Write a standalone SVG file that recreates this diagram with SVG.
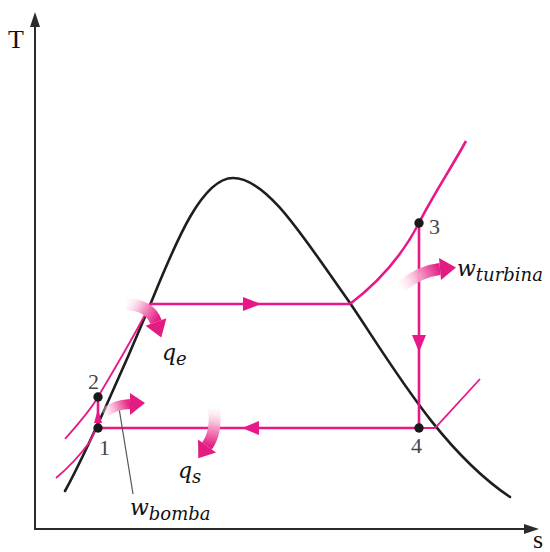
<svg xmlns="http://www.w3.org/2000/svg" width="550" height="552" viewBox="0 0 550 552">
<style>
.ax{stroke:#2b2b2b;stroke-width:2;fill:none}
.axh{fill:#2b2b2b}
.dome{stroke:#1e1e1e;stroke-width:2.6;fill:none;stroke-linecap:round}
.mg{stroke:#e8178a;stroke-width:2.6;fill:none}
.mgt{stroke:#e8178a;stroke-width:1.8;fill:none}
.mgh{fill:#e8178a}
.dot{fill:#1a1a1a}
.num{font-family:"Liberation Serif",serif;font-size:22px;fill:#3e4656}
.axl{font-family:"Liberation Serif",serif;font-size:26px;fill:#111}
.m{font-family:"DejaVu Serif",serif;font-style:italic;font-size:22px;fill:#111}
.sub{font-size:18px}
.head{fill:#e31c82}
.body{fill:none;stroke-width:12;stroke-linecap:butt}
</style>
<defs>
<linearGradient id="gqe" gradientUnits="userSpaceOnUse" x1="126" y1="304" x2="156" y2="322">
<stop offset="0" stop-color="#fde8f2" stop-opacity="0.2"/><stop offset="0.5" stop-color="#f49ac6"/><stop offset="1" stop-color="#e31c82"/>
</linearGradient>
<linearGradient id="gwt" gradientUnits="userSpaceOnUse" x1="401" y1="287" x2="440" y2="269">
<stop offset="0" stop-color="#fde8f2" stop-opacity="0.2"/><stop offset="0.5" stop-color="#f49ac6"/><stop offset="1" stop-color="#e31c82"/>
</linearGradient>
<linearGradient id="gwb" gradientUnits="userSpaceOnUse" x1="104" y1="414" x2="130" y2="404">
<stop offset="0" stop-color="#fde8f2" stop-opacity="0.3"/><stop offset="0.5" stop-color="#f49ac6"/><stop offset="1" stop-color="#e31c82"/>
</linearGradient>
<linearGradient id="gqs" gradientUnits="userSpaceOnUse" x1="214" y1="408" x2="207" y2="446">
<stop offset="0" stop-color="#fde8f2" stop-opacity="0.2"/><stop offset="0.5" stop-color="#f49ac6"/><stop offset="1" stop-color="#e31c82"/>
</linearGradient>
</defs>

<g id="axes">
<line class="ax" x1="35" y1="529" x2="35" y2="22"/>
<polygon class="axh" points="35,12 30,27 40,27"/>
<line class="ax" x1="34" y1="529" x2="528" y2="529"/>
<polygon class="axh" points="539,529 524,524 524,534"/>
<text class="axl" x="8" y="48">T</text>
<text class="axl" x="533" y="548">s</text>
</g>

<g id="dome">
<path class="dome" d="M65,491 C85,455 125,365 150,305 C172,252 200,178 233,178 C268,178 305,240 350,303 C390,362 440,450 510,497"/>
</g>

<g id="isobars">
<path class="mgt" d="M65,439 C78,424 90,411 98,397 C112,373 135,335 150,305"/>
<path class="mgt" d="M56,478 C68,468 80,455 89,443 L96,429"/>
<path class="mg" d="M350,304 C375,285 400,260 419,223 C432,197 450,170 466,141"/>
<path class="mgt" d="M419,428 L435,428 L480,379"/>
</g>

<g id="connectors">
<path class="mg" d="M150,304 L350,304"/>
<polygon class="mgh" points="243,297 261,304 243,311"/>
<path class="mg" d="M419,223 L419,428"/>
<polygon class="mgh" points="412,335 419,352 426,335"/>
<path class="mg" d="M419,428 L98,428"/>
<polygon class="mgh" points="259,421 242,428 259,435"/>
<path class="mg" d="M98,428 L98,397"/>
<polygon class="mgh" points="94,423 98,409 102,423"/>
<line x1="119" y1="408" x2="133" y2="494" stroke="#555" stroke-width="1.2"/>
</g>

<g id="heat-work-arrows">
<g id="arrow-qe">
<path class="body" stroke="url(#gqe)" d="M126,304 Q150,305 156,322"/>
<polygon class="head" points="166.4,318.3 145.6,325.7 161.3,337.5"/>
</g>
<g id="arrow-wturbina">
<path class="body" stroke="url(#gwt)" d="M401,287 Q420,271 440,269"/>
<polygon class="head" points="441,280 439,258 456,267.4"/>
</g>
<g id="arrow-wbomba">
<path class="body" stroke="url(#gwb)" style="stroke-width:10" d="M104,414 Q112,405 130,404"/>
<polygon class="head" points="130,393 130,415 145,403"/>
</g>
<g id="arrow-qs">
<path class="body" stroke="url(#gqs)" d="M214,408 Q217,432 207,446"/>
<polygon class="head" points="216,452.5 198,439.5 198.3,458.2"/>
</g>
</g>

<g id="point-1"><circle class="dot" cx="98" cy="428" r="4.7"/><text class="num" x="99" y="455">1</text></g>
<g id="point-2"><circle class="dot" cx="98" cy="397" r="4.7"/><text class="num" x="88" y="389">2</text></g>
<g id="point-3"><circle class="dot" cx="419" cy="223" r="4.7"/><text class="num" x="429" y="234">3</text></g>
<g id="point-4"><circle class="dot" cx="419" cy="428" r="4.7"/><text class="num" x="411" y="453">4</text></g>

<g id="labels">
<text class="m" x="162" y="360">q<tspan class="sub" dy="5">e</tspan></text>
<text class="m" x="178" y="478">q<tspan class="sub" dy="5">s</tspan></text>
<text class="m" x="457" y="276">w<tspan class="sub" dy="5">turbina</tspan></text>
<text class="m" x="130" y="515">w<tspan class="sub" dy="5">bomba</tspan></text>
</g>
</svg>
